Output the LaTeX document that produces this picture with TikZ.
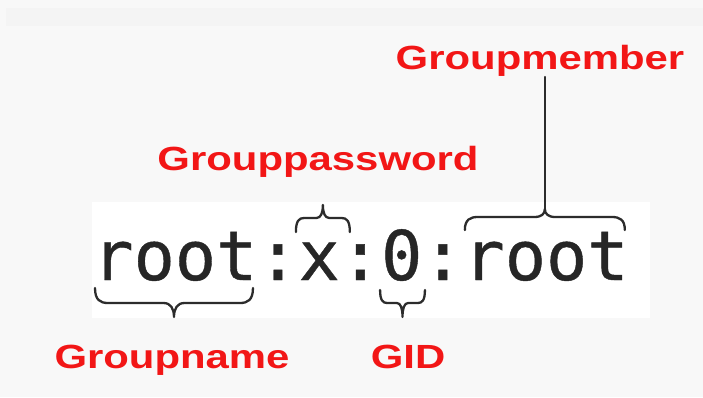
\documentclass[tikz,border=0pt]{standalone}
\usepackage{fontspec}
\setmainfont{Liberation Sans}
\newfontfamily\codefont[FakeBold=0.6]{DejaVu Sans Mono}
\usetikzlibrary{calc}
\definecolor{bgc}{HTML}{F8F8F8}
\definecolor{bandc}{HTML}{F4F4F4}
\definecolor{codec}{HTML}{262626}
\definecolor{lblred}{HTML}{F21616}
\definecolor{bracec}{HTML}{2C2C2C}
\tikzset{
  seg/.style={inner sep=0pt, outer sep=0pt, anchor=base west, text=codec,
    font=\codefont\fontsize{68.5}{70}\selectfont},
  lbl/.style={inner sep=0pt, anchor=base, text=lblred,
    font=\bfseries\fontsize{33.5}{36}\selectfont},
  brcline/.style={draw=bracec, line width=2.3pt, line join=round, line cap=round},
}
\newcommand{\wide}[1]{\scalebox{1.25}[1]{#1}}
% #1 left end, #2 right end, #3 bar offset, #4 tip offset, #5 end-curve width
\newcommand{\mybrace}[5]{%
  \coordinate (bM) at ($(#1)!0.5!(#2)$);
  \pgfmathsetmacro{\bh}{#3}%
  \pgfmathsetmacro{\bt}{#4}%
  \pgfmathsetmacro{\br}{#5}%
  \pgfmathsetmacro{\cA}{0.8*\bh}%
  \pgfmathsetmacro{\cB}{0.6*\br}%
  \pgfmathsetmacro{\cC}{0.8*\br}%
  \pgfmathsetmacro{\cD}{0.55*\br}%
  \pgfmathsetmacro{\cE}{-0.6*(\bt-\bh)}%
  \draw[brcline] (#1) .. controls +(0,\cA) and +(-\cB,0) .. ($(#1)+(\br,\bh)$)
     -- ($(bM)+(-\cC,\bh)$) .. controls +(\cD,0) and +(0,\cE) .. ($(bM)+(0,\bt)$)
     .. controls +(0,\cE) and +(-\cD,0) .. ($(bM)+(\cC,\bh)$)
     -- ($(#2)+(-\br,\bh)$) .. controls +(\cB,0) and +(0,\cA) .. (#2);
}
\begin{document}
\begin{tikzpicture}[x=1pt,y=-1pt]
\useasboundingbox (0,0) rectangle (703,397);
\fill[bgc] (0,0) rectangle (703,397);
\fill[bandc] (6,8) rectangle (703,26);
\fill[white] (92,202) rectangle (650,318);
% code line
\node[seg] (r1) at (92.4,280) {root};
\node[seg] (c1) at (r1.base east) {:};
\node[seg] (xx) at (c1.base east) {x};
\node[seg] (c2) at (xx.base east) {:};
\node[seg] (zz) at (c2.base east) {0};
\node[seg] (c3) at (zz.base east) {:};
\node[seg] (r2) at (c3.base east) {root};
% labels
\node[lbl] (gmem) at (540,69) {\wide{Groupmember}};
\node[lbl] (gpass) at (318,170) {\wide{Grouppassword}};
\node[lbl] (gname) at (172,368) {\wide{Groupname}};
\node[lbl] (gid) at (408,368) {\wide{GID}};
% brace end points
\coordinate (a1) at ($(r1.base west)+(2.6,8)$);
\coordinate (b1) at ($(r1.base east)+(-4.4,8)$);
\coordinate (a2) at ($(zz.base west)+(-1,10)$);
\coordinate (b2) at ($(zz.base east)+(2.6,10)$);
\coordinate (a3) at ($(xx.base west)+(-2.7,-48)$);
\coordinate (b3) at ($(xx.base east)+(10,-48)$);
\coordinate (a4) at ($(r2.base west)+(1.3,-50)$);
\coordinate (b4) at ($(r2.base east)+(-3.7,-50)$);
% braces
\mybrace{a1}{b1}{15}{29}{13}
\mybrace{a2}{b2}{13}{27}{7}
\mybrace{a3}{b3}{-14}{-27}{8}
\mybrace{a4}{b4}{-13}{-21}{13}
\coordinate (mtip) at ($($(a4)!0.5!(b4)$)+(0,-21)$);
\draw[brcline] (mtip) -- ($(mtip |- gmem.base)+(0,8)$);
\end{tikzpicture}
\end{document}
